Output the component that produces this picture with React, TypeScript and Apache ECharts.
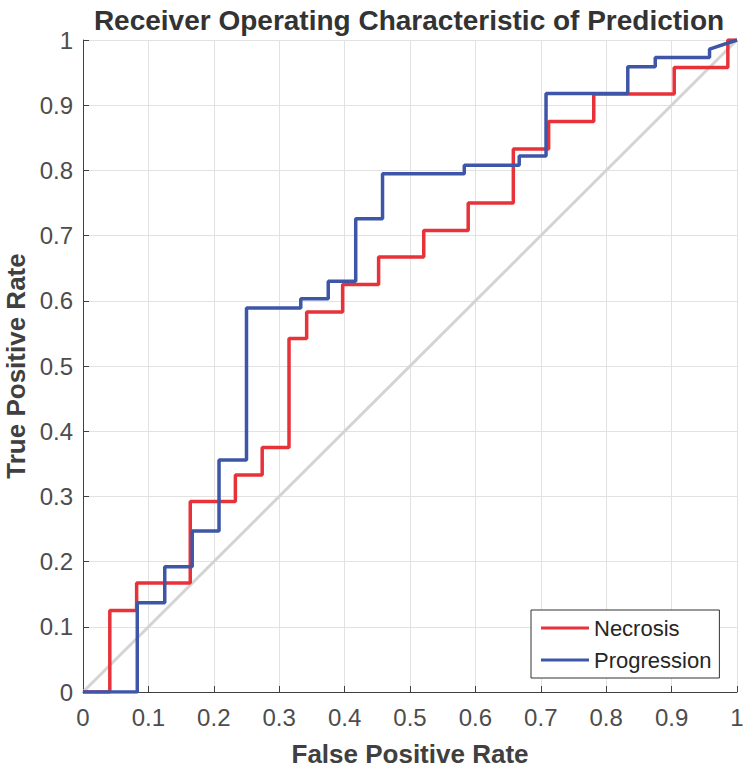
import React, { useEffect, useRef } from "react";
import * as echarts from "echarts";

// ROC vertices
const fprNecrosis = [0, 0.041, 0.041, 0.082, 0.082, 0.164, 0.164, 0.233, 0.233, 0.274, 0.274, 0.315, 0.315, 0.342, 0.342, 0.397, 0.397, 0.452, 0.452, 0.521, 0.521, 0.589, 0.589, 0.658, 0.658, 0.712, 0.712, 0.781, 0.781, 0.904, 0.904, 0.986, 0.986, 1];
const tprNecrosis = [0, 0, 0.125, 0.125, 0.167, 0.167, 0.292, 0.292, 0.333, 0.333, 0.375, 0.375, 0.542, 0.542, 0.583, 0.583, 0.625, 0.625, 0.667, 0.667, 0.708, 0.708, 0.75, 0.75, 0.833, 0.833, 0.875, 0.875, 0.917, 0.917, 0.958, 0.958, 1, 1];

const fprProgression = [0, 0.083, 0.083, 0.125, 0.125, 0.167, 0.167, 0.208, 0.208, 0.25, 0.25, 0.333, 0.333, 0.375, 0.375, 0.417, 0.417, 0.458, 0.458, 0.583, 0.583, 0.667, 0.667, 0.708, 0.708, 0.833, 0.833, 0.875, 0.875, 0.958, 0.958, 1];
const tprProgression = [0, 0, 0.137, 0.137, 0.192, 0.192, 0.247, 0.247, 0.356, 0.356, 0.589, 0.589, 0.603, 0.603, 0.63, 0.63, 0.726, 0.726, 0.795, 0.795, 0.808, 0.808, 0.822, 0.822, 0.918, 0.918, 0.959, 0.959, 0.973, 0.973, 0.986, 1];

const chanceX = [0, 1];
const chanceY = [0, 1];

const seriesNames = ["Necrosis", "Progression"];
const titleText = "Receiver Operating Characteristic of Prediction";
const xName = "False Positive Rate";
const yName = "True Positive Rate";

const FONT = "'Liberation Sans', Arial, Helvetica, sans-serif";
const TEXT = "#404040";

const zip = (xs: number[], ys: number[]) => xs.map((x, i) => [x, ys[i]]);

export default function App() {
  const ref = useRef<HTMLDivElement>(null);
  useEffect(() => {
    document.body.style.margin = "0";
    if (!ref.current) return;
    const chart = echarts.init(ref.current, undefined, { renderer: "svg" });
    const axisCommon = {
      type: "value" as const,
      min: 0,
      max: 1,
      interval: 0.1,
      nameLocation: "middle" as const,
      nameTextStyle: { fontSize: 26, fontWeight: "bold" as const, color: TEXT, fontFamily: FONT },
      axisLine: { show: true, lineStyle: { color: TEXT, width: 1 } },
      axisTick: { show: true, inside: true, length: 6, lineStyle: { color: TEXT } },
      splitLine: { show: true, lineStyle: { color: "#e2e2e2", width: 1 } },
    };
    chart.setOption({
      animation: false,
      backgroundColor: "#ffffff",
      title: {
        text: titleText,
        left: 404,
        top: 1,
        textAlign: "center",
        textStyle: { fontSize: 28, fontWeight: "bold", color: "#333333", fontFamily: FONT },
      },
      grid: { left: 83, right: 10, top: 40, bottom: 79, outerBoundsMode: "none", containLabel: false },
      xAxis: {
        ...axisCommon,
        name: xName,
        nameGap: 49,
        axisLabel: { fontSize: 24, color: "#4d4d4d", fontFamily: FONT, margin: 13 },
      },
      yAxis: {
        ...axisCommon,
        name: yName,
        nameGap: 52,
        axisLabel: { fontSize: 24, color: "#4d4d4d", fontFamily: FONT, margin: 10 },
      },
      legend: {
        data: seriesNames,
        orient: "vertical",
        left: 531,
        top: 610,
        icon: "rect",
        itemWidth: 48,
        itemHeight: 3,
        itemGap: 8,
        padding: [6, 8, 6, 10],
        borderColor: "#333333",
        borderWidth: 1,
        backgroundColor: "#ffffff",
        textStyle: { fontSize: 22, color: "#262626", fontFamily: FONT, lineHeight: 24 },
      },
      series: [
        {
          name: "chance",
          type: "line",
          data: zip(chanceX, chanceY),
          showSymbol: false,
          silent: true,
          lineStyle: { color: "#d4d4d4", width: 3 },
          z: 1,
        },
        {
          name: seriesNames[0],
          type: "line",
          data: zip(fprNecrosis, tprNecrosis),
          showSymbol: false,
          color: "#e8323a",
          lineStyle: { color: "#e8323a", width: 3.5 },
          z: 2,
        },
        {
          name: seriesNames[1],
          type: "line",
          data: zip(fprProgression, tprProgression),
          showSymbol: false,
          color: "#3e56a7",
          lineStyle: { color: "#3e56a7", width: 3.5 },
          z: 3,
        },
      ],
    });
    return () => chart.dispose();
  }, []);
  return <div ref={ref} style={{ width: 747, height: 771 }} />;
}
